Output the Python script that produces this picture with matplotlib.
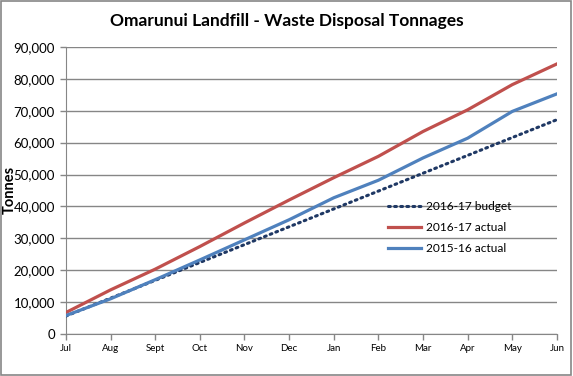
import matplotlib
matplotlib.use('Agg')
import matplotlib.pyplot as plt
from matplotlib.patches import Rectangle

plt.rcParams['font.family'] = ['Lato', 'DejaVu Sans']

months = ['Jul', 'Aug', 'Sept', 'Oct', 'Nov', 'Dec', 'Jan', 'Feb', 'Mar', 'Apr', 'May', 'Jun']
budget_1617 = [5600, 11200, 16800, 22400, 28000, 33600, 39200, 44800, 50400, 56000, 61600, 67200]
actual_1617 = [6700, 13800, 20300, 27400, 34800, 42000, 49000, 55700, 63500, 70300, 78200, 84700]
actual_1516 = [5750, 11000, 17000, 23200, 29500, 35800, 42700, 48200, 55200, 61400, 69800, 75300]

fig = plt.figure(figsize=(5.73, 3.76), dpi=100)
ax = fig.add_axes([0.115, 0.112, 0.857, 0.763])

x = range(len(months))
ax.plot(x, budget_1617, color='#1F3864', lw=2.2, linestyle=(0, (0.6, 1.4)),
        dash_capstyle='round', label='2016-17 budget', zorder=3)
ax.plot(x, actual_1617, color='#C0504D', lw=2.3, label='2016-17 actual', zorder=3)
ax.plot(x, actual_1516, color='#4F81BD', lw=2.3, label='2015-16 actual', zorder=4)

ax.set_xlim(0, len(months) - 1)
ax.set_ylim(0, 90000)
ax.set_yticks(range(0, 90001, 10000))
ax.set_yticklabels(['{:,}'.format(v) for v in range(0, 90001, 10000)], fontsize=9.5)
ax.set_xticks(list(x))
ax.set_xticklabels(months, fontsize=7)
ax.yaxis.grid(True, color='#868686', lw=1)
ax.set_axisbelow(True)
for s in ['top', 'right']:
    ax.spines[s].set_visible(False)
for s in ['left', 'bottom']:
    ax.spines[s].set_color('#868686')
ax.tick_params(axis='both', colors='#868686', length=4, width=1, labelcolor='black')
ax.tick_params(axis='y', length=4, pad=4)

# y label sits at the far left, like the original
fig.text(10 / 573, 1 - 190 / 376, 'Tonnes', rotation=90, ha='center', va='center',
         fontsize=10.5, fontweight='bold')
fig.text(0.5, 0.945, 'Omarunui Landfill - Waste Disposal Tonnages', ha='center', va='center',
         fontsize=12.5, fontweight='bold')

ax.legend(loc='upper left', bbox_to_anchor=(377 / 573, 1 - 190 / 376),
          bbox_transform=fig.transFigure, frameon=False, fontsize=8.6,
          handlelength=2.8, labelspacing=0.85, handletextpad=0.4)

fig.patches.append(Rectangle((0.002, 0.003), 0.995, 0.994, transform=fig.transFigure,
                             fill=False, edgecolor='#868686', lw=1.2))

fig.savefig('out.png', dpi=100)
